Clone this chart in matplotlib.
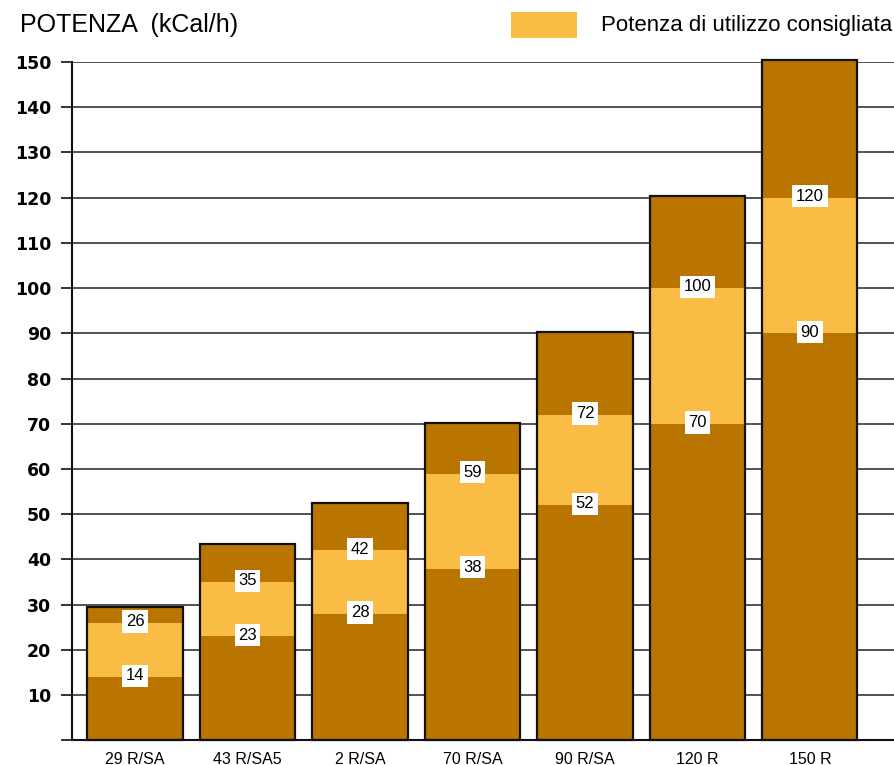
import matplotlib
matplotlib.use("Agg")
import matplotlib.pyplot as plt
from matplotlib.patches import Rectangle

categories = ["29 R/SA", "43 R/SA5", "2 R/SA", "70 R/SA", "90 R/SA", "120 R", "150 R"]
totals = [29.6, 43.4, 52.4, 70.1, 90.4, 120.3, 150.5]
band_low = [14, 23, 28, 38, 52, 70, 90]
band_high = [26, 35, 42, 59, 72, 100, 120]
y_ticks = [10, 20, 30, 40, 50, 60, 70, 80, 90, 100, 110, 120, 130, 140, 150]

dark = "#BA7400"
light = "#F9BC45"

fig = plt.figure(figsize=(8.94, 7.65), dpi=100)
ax = fig.add_axes([72/894, 1-740.4/765, 1-72/894, (740.4-62)/765])

x = list(range(len(categories)))
w = 0.845
ax.bar(x, totals, width=w, color=dark, edgecolor="none", zorder=2, clip_on=False)
ax.bar(x, [h - l for l, h in zip(band_low, band_high)], bottom=band_low, width=w,
       color=light, edgecolor="none", zorder=3, clip_on=False)
ax.bar(x, totals, width=w, fill=False, edgecolor="#111111", linewidth=1.6, zorder=4, clip_on=False)

for xi, lo, hi in zip(x, band_low, band_high):
    for v in (lo, hi):
        ax.text(xi, v + 0.3, str(v), ha="center", va="center", fontsize=12,
                family="Liberation Sans", color="black", zorder=6,
                bbox=dict(boxstyle="square,pad=0.22", fc="white", ec="none"))

ax.set_xlim(-0.56, 6.747)
ax.set_ylim(0, 150)
ax.set_yticks([0] + y_ticks)
ax.set_yticklabels([""] + [str(t) for t in y_ticks], fontsize=12.5, fontweight="bold",
                   family="DejaVu Sans")
ax.set_xticks(x)
ax.set_xticklabels(categories, fontsize=11.5, family="Liberation Sans")
ax.tick_params(axis="x", length=0, pad=8)
ax.tick_params(axis="y", length=8, width=1.2, pad=7, color="#111111")
for t in y_ticks:
    ax.axhline(t, color="#333333", linewidth=1.2, zorder=1)
for s in ["top", "right"]:
    ax.spines[s].set_visible(False)
ax.spines["left"].set_linewidth(1.5)
ax.spines["bottom"].set_linewidth(1.5)
ax.spines["left"].set_color("#111111")
ax.spines["bottom"].set_color("#111111")

fig.text(20/894, 1-25/765, "POTENZA  (kCal/h)", fontsize=18, family="Liberation Sans",
         ha="left", va="center")
fig.patches.append(Rectangle((511/894, 1-38/765), 66/894, 26/765, transform=fig.transFigure,
                             facecolor=light, edgecolor="none"))
fig.text(601/894, 1-25/765, "Potenza di utilizzo consigliata", fontsize=16,
         family="Liberation Sans", ha="left", va="center")

fig.savefig("out.png", dpi=100)
